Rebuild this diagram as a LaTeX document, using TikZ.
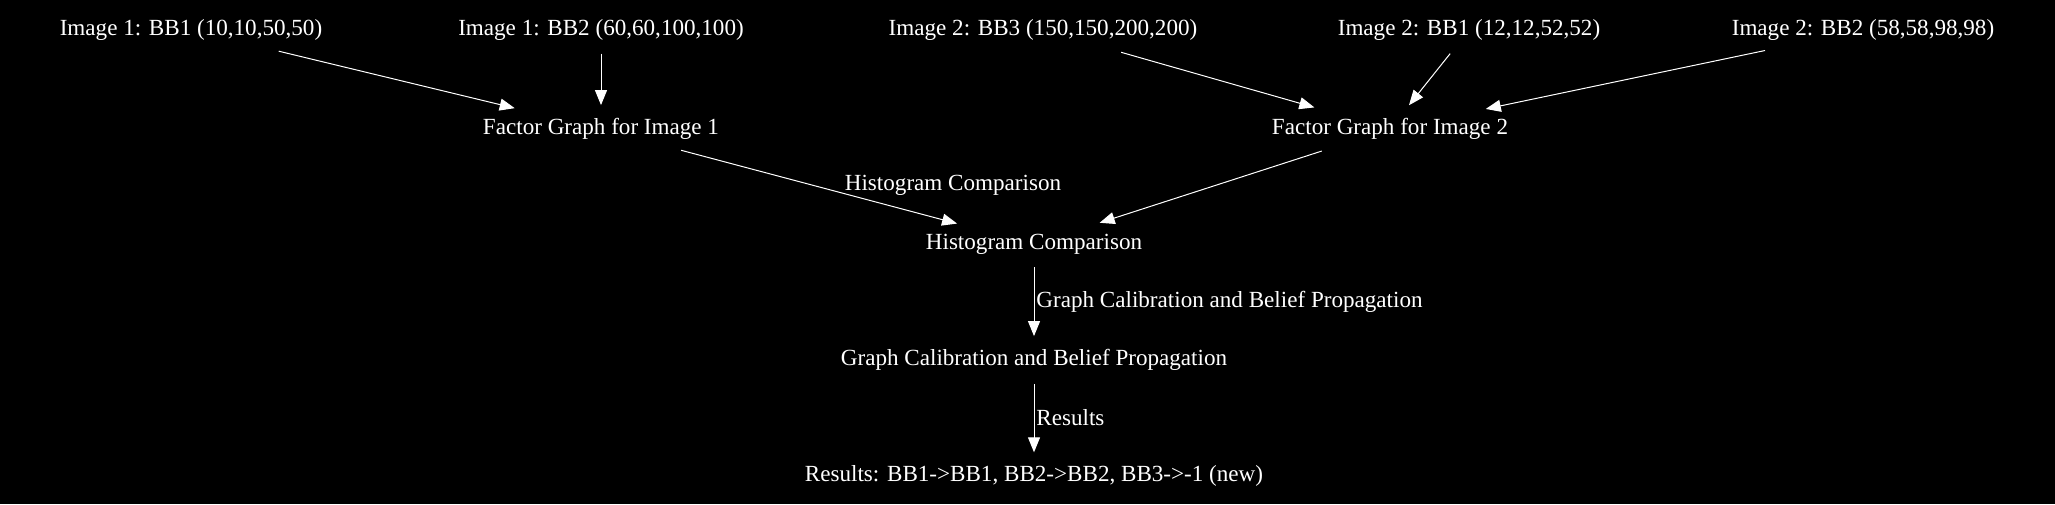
\documentclass[tikz,border=0pt]{standalone}
\usepackage{fontspec}
\setmainfont{Liberation Serif}
\usetikzlibrary{shapes.geometric,arrows.meta}
\begin{document}
\begin{tikzpicture}[x=0.5pt,y=-0.5pt,
  every node/.style={text=white, font=\fontsize{11.55}{14}\selectfont},
  bbnode/.style={ellipse, inner sep=3pt},
  lbl/.style={inner sep=0pt},
  conn/.style={draw=white, line width=0.5pt, -{Triangle[length=7.5pt,width=6pt]}}]
\fill[black] (0,0) rectangle (2055,504);
\useasboundingbox (0,0) rectangle (2055,504);
\node[bbnode] (i1b1) at (191,30) {Image 1: BB1 (10,10,50,50)};
\node[bbnode] (i1b2) at (601,30) {Image 1: BB2 (60,60,100,100)};
\node[bbnode] (i2b3) at (1043,30) {Image 2: BB3 (150,150,200,200)};
\node[bbnode] (i2b1) at (1469,30) {Image 2: BB1 (12,12,52,52)};
\node[bbnode] (i2b2) at (1863,30) {Image 2: BB2 (58,58,98,98)};
\node[bbnode] (fg1) at (601,129) {Factor Graph for Image 1};
\node[bbnode] (fg2) at (1390,129) {Factor Graph for Image 2};
\node[bbnode] (hc) at (1034,244) {Histogram Comparison};
\node[bbnode] (gc) at (1034,360) {Graph Calibration and Belief Propagation};
\node[bbnode] (res) at (1034,476) {Results: BB1->BB1, BB2->BB2, BB3->-1 (new)};
\node[lbl] (l1) at (953,185) {Histogram Comparison};
\node[lbl, anchor=west] (l2) at (1036,302) {Graph Calibration and Belief Propagation};
\node[lbl, anchor=west] (l3) at (1036,418) {Results};
\draw[conn] (i1b1) -- (fg1);
\draw[conn] (i1b2) -- (fg1);
\draw[conn] (i2b3) -- (fg2);
\draw[conn] (i2b1) -- (fg2);
\draw[conn] (i2b2) -- (fg2);
\draw[conn] (fg1) -- (hc);
\draw[conn] (fg2) -- (hc);
\draw[conn] (hc) -- (gc);
\draw[conn] (gc) -- (res);
\end{tikzpicture}
\end{document}
